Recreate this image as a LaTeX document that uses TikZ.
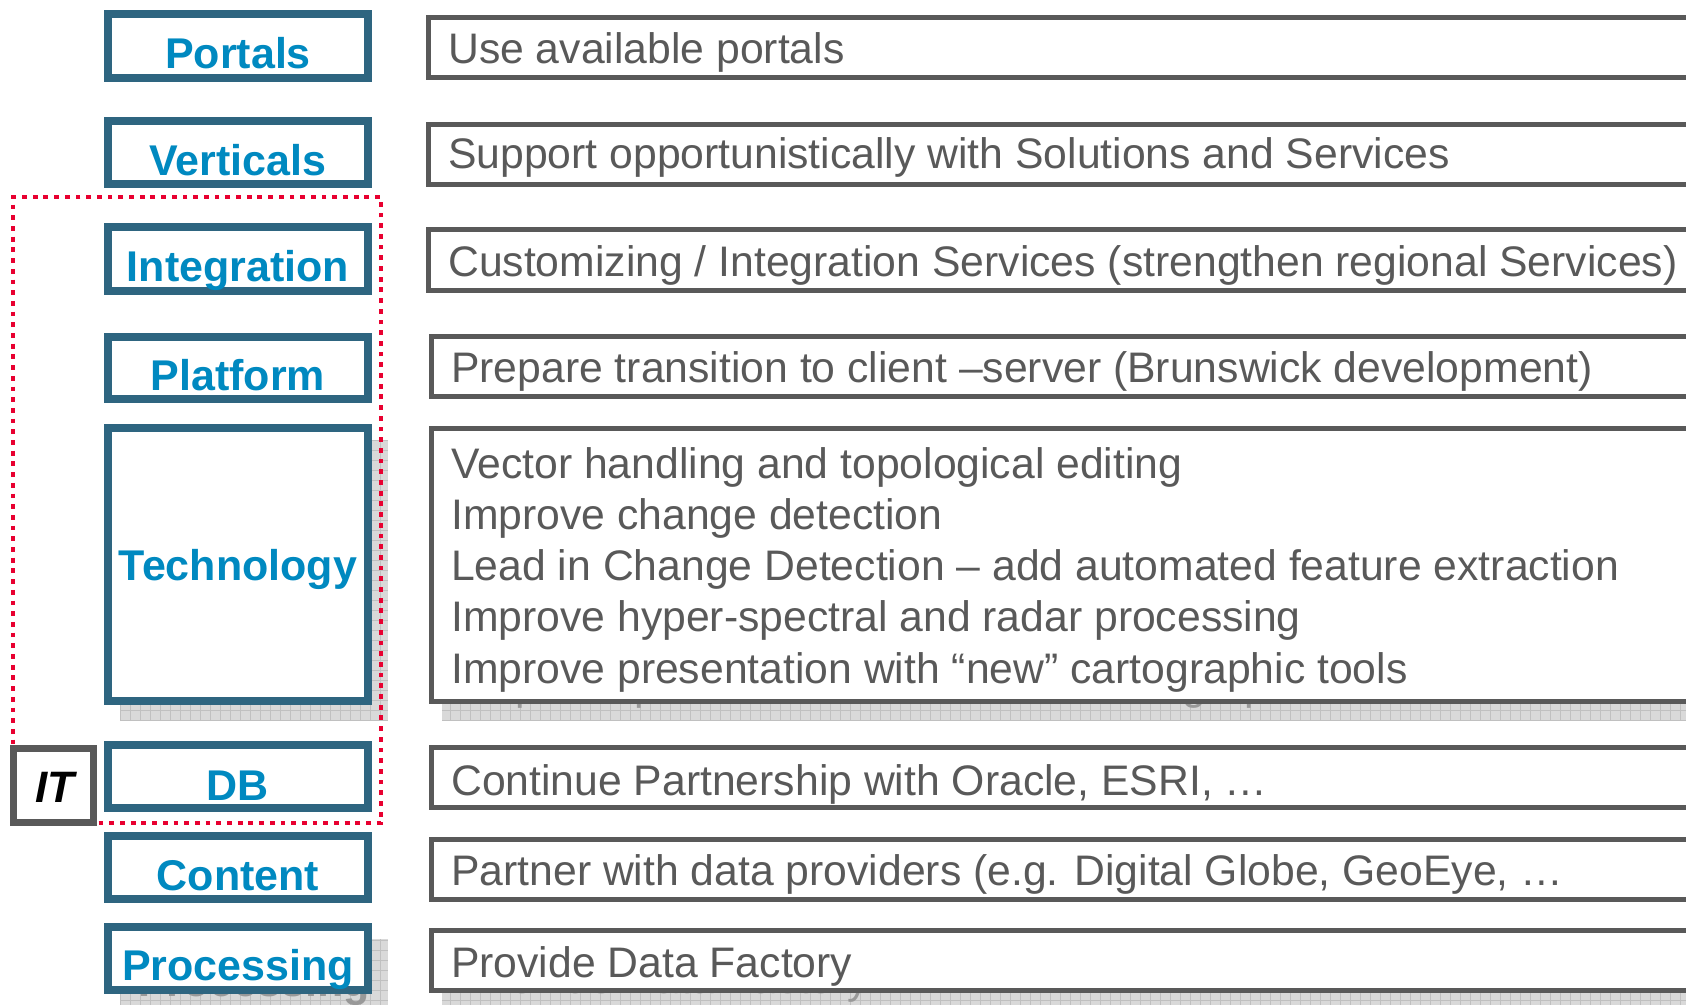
\documentclass[tikz,border=0pt]{standalone}
\usepackage{fontspec}
\setmainfont{Liberation Sans}

\definecolor{boxblue}{RGB}{46,101,128}
\definecolor{labelblue}{RGB}{0,137,192}
\definecolor{textgrey}{RGB}{89,89,89}
\definecolor{dotred}{RGB}{232,0,48}
\definecolor{shadowfill}{RGB}{217,217,217}
\definecolor{shadowline}{RGB}{192,192,192}

\tikzset{
  catbox/.style={draw=boxblue, line width=8pt, fill=white, inner sep=0pt, minimum width=260pt},
  catlabel/.style={anchor=base, inner sep=0pt, text=labelblue,
                   font=\fontsize{43}{50}\selectfont\bfseries},
  actbox/.style={draw=textgrey, line width=5pt, fill=white, inner sep=0pt,
                 anchor=west, minimum width=1300pt},
  acttext/.style={anchor=base west, inner sep=0pt, text=textgrey,
                  font=\fontsize{42.7}{51.3}\selectfont},
  ghosttext/.style={text=black!40},
  shadowgrid/.style={draw=shadowline, line width=0.8pt, step=10pt},
  itframe/.style={draw=dotred, line width=4.8pt, dash pattern=on 4.8pt off 5.9pt, inner sep=0pt},
  itbox/.style={draw=textgrey, line width=7pt, fill=white, inner sep=0pt},
}

% left column: name, centre y, height, baseline y, label
\newcommand\category[5]{%
  \node[catbox, minimum height=#3pt] (#1) at (238,#2) {};
  \node[catlabel] (#1-label) at (238,#4) {#5};}

% right column: name, left x, centre y, height, text x, baseline y, text
\newcommand\actionrow[7]{%
  \node[actbox, minimum height=#4pt] (#1) at (#2,#3) {};
  \node[acttext] (#1-text) at (#5,#6) {#7};}

\begin{document}
\begin{tikzpicture}[x=1pt,y=-1pt]
  \useasboundingbox (0,0) rectangle (1686,1004);
  \clip (0,0) rectangle (1686,1004);

  % drop shadows behind the technology and processing rows
  \fill[shadowfill] (120,440) rectangle (388,721);
  \draw[shadowgrid] (120,440) grid (388,721);
  \fill[shadowfill] (442,442) rectangle (1700,720);
  \draw[shadowgrid] (442,442) grid (1700,720);
  \fill[shadowfill] (120,939) rectangle (388,1010);
  \draw[shadowgrid] (120,939) grid (388,1010);
  \fill[shadowfill] (442,944) rectangle (1700,1010);
  \draw[shadowgrid] (442,944) grid (1700,1010);
  \node[catlabel, ghosttext] (proc-ghost) at (254,996) {Processing};
  \node[acttext, ghosttext] (tech-ghost) at (468,699) {Improve presentation with “new” cartographic tools};
  \node[acttext, ghosttext] (factory-ghost) at (468,993) {Provide Data Factory};

  % categories
  \category{portals}{46}{64}{68}{Portals}
  \category{verticals}{152.5}{63}{175}{Verticals}
  \category{integration}{259}{64}{281}{Integration}
  \category{platform}{368}{62}{390}{Platform}
  \category{technology}{564.5}{273}{580}{Technology}
  \category{db}{776.5}{63}{800}{DB}
  \category{content}{867.5}{63}{890}{Content}
  \category{processing}{958.5}{63}{980}{Processing}

  % actions
  \actionrow{a-portals}{425.5}{47.5}{60}{448}{63}{Use available portals}
  \actionrow{a-verticals}{425.5}{154.5}{60}{448}{168}{Support opportunistically with Solutions and Services}
  \actionrow{a-integration}{425.5}{260}{61}{448}{276}{Customizing / Integration Services (strengthen regional Services)}
  \actionrow{a-platform}{428.5}{366.5}{60}{451}{382}{Prepare transition to client –server (Brunswick development)}
  \node[actbox, minimum height=273pt] (a-technology) at (428.5,565) {};
  \node[acttext] (tech-1) at (451,478) {Vector handling and topological editing};
  \node[acttext] (tech-2) at (451,529.3) {Improve change detection};
  \node[acttext] (tech-3) at (451,580.6) {Lead in Change Detection – add automated feature extraction};
  \node[acttext] (tech-4) at (451,631.9) {Improve hyper-spectral and radar processing};
  \node[acttext] (tech-5) at (451,683.2) {Improve presentation with “new” cartographic tools};
  \actionrow{a-db}{428.5}{777.5}{60}{451}{795}{Continue Partnership with Oracle, ESRI, …}
  \actionrow{a-content}{428.5}{869.5}{60}{451}{885}{Partner with data providers (e.g. Digital Globe, GeoEye, …}
  \actionrow{a-processing}{428.5}{960.5}{60}{451}{977}{Provide Data Factory}

  % IT group frame and its tag
  \node[itframe, minimum width=368pt, minimum height=626pt] (itgroup) at (197,510) {};
  \node[itbox, minimum width=80pt, minimum height=74pt] (it) at (53.5,785.5) {};
  \node[anchor=base, inner sep=0pt, font=\fontsize{44}{50}\selectfont\bfseries\itshape] (it-label) at (55,802) {IT};
\end{tikzpicture}
\end{document}
